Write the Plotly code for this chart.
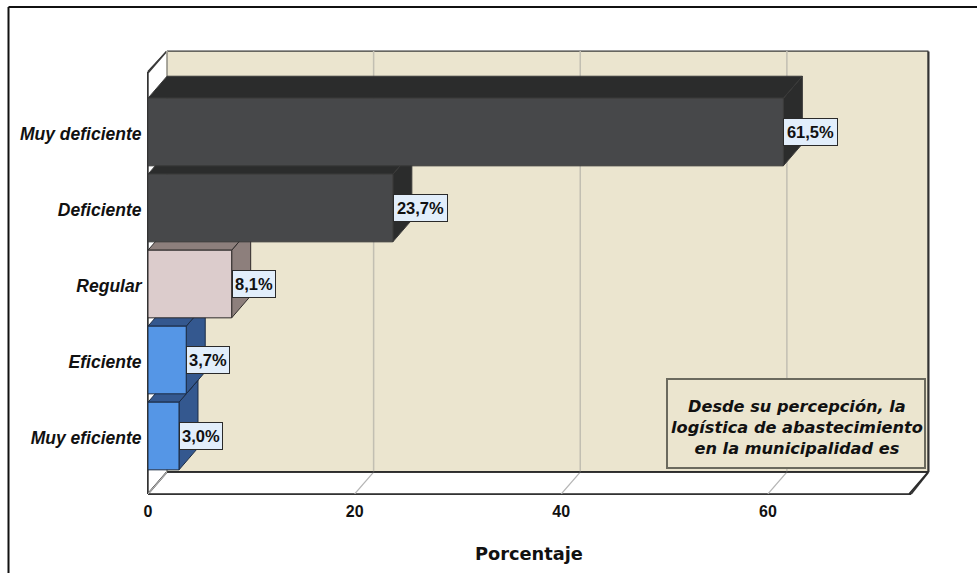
import plotly.graph_objects as go

# Data (bottom to top)
categories = ["Muy eficiente", "Eficiente", "Regular", "Deficiente", "Muy deficiente"]
percentages = [3.0, 3.7, 8.1, 23.7, 61.5]
front_colors = ["#5596E6", "#5596E6", "#DCCCCC", "#47484A", "#47484A"]
side_colors = ["#34588F", "#34588F", "#8D7F7C", "#2B2C2C", "#2B2C2C"]
edge_colors = ["#1B2B44", "#1B2B44", "#2E2A2A", "#3A3A3A", "#3A3A3A"]
x_ticks = [0, 20, 40, 60]
note_text = "Desde su percepción, la<br>logística de abastecimiento<br>en la municipalidad es"
x_title = "Porcentaje"

WALL = "#EBE5CF"
DX, DY = 1.839, 0.289
HALF = 0.445
XMAX = 75.5
YMIN, YMAX = -0.763, 5.066
L, R, T, B = 148, 928, 51, 494


def px(v):
    return (v - L) / (R - L)


def py(v):
    return (B - v) / (B - T)


def poly(xs, ys):
    return "M" + "L".join(f"{a},{b}" for a, b in zip(xs, ys)) + "Z"


xf, xb = 0, XMAX - DX
yf, ytf = YMIN, YMAX - DY
yb, ytb = YMIN + DY, YMAX

shapes = [
    # outer frame
    dict(type="line", xref="paper", yref="paper", x0=px(8.5), x1=px(8.5), y0=py(7), y1=py(573),
         line=dict(color="#111111", width=2)),
    dict(type="line", xref="paper", yref="paper", x0=px(8.5), x1=px(977), y0=py(7), y1=py(7),
         line=dict(color="#111111", width=2)),
    # back wall
    dict(type="path", layer="below", path=poly([DX, XMAX, XMAX, DX], [yb, yb, ytb, ytb]),
         fillcolor=WALL, line=dict(color="#3C3C3C", width=1.5)),
    # left wall
    dict(type="path", layer="below", path=poly([0, DX, DX, 0], [yf, yb, ytb, ytf]),
         fillcolor="#FFFFFF", line=dict(color="#3C3C3C", width=1.5)),
    # floor
    dict(type="path", layer="below", path=poly([0, xb, XMAX, DX], [yf, yf, yb, yb]),
         fillcolor="#FFFFFF", line=dict(color="#2A2A2A", width=1.5)),
]
for t in x_ticks:
    shapes.append(dict(type="line", layer="below", x0=t + DX, x1=t + DX, y0=yb, y1=ytb,
                       line=dict(color="#C2BFB2", width=1.5)))
    shapes.append(dict(type="line", layer="below", x0=t, x1=t + DX, y0=yf, y1=yb,
                       line=dict(color="#B5B5B5", width=1.2)))
# cube outline in paper coordinates (not clipped at the plot edge)
shapes.append(dict(type="line", layer="below", x0=DX, x1=XMAX, y0=yb, y1=yb,
                   line=dict(color="#2A2A2A", width=1.5)))
outline_x = [px(a) for a in (148, 911, 928.5, 928.5, 167, 148)]
outline_y = [py(a) for a in (494, 494, 472, 51.5, 51.5, 72)]
for j in range(len(outline_x)):
    k = (j + 1) % len(outline_x)
    shapes.append(dict(type="line", xref="paper", yref="paper", layer="below",
                       x0=outline_x[j], x1=outline_x[k], y0=outline_y[j], y1=outline_y[k],
                       line=dict(color="#333333", width=2)))
# note box
shapes.append(dict(type="rect", xref="paper", yref="paper", x0=px(667), x1=px(925), y0=py(468), y1=py(379),
                   fillcolor=WALL, line=dict(color="#6B6A5E", width=2)))

fig = go.Figure()

for i, v in enumerate(percentages):
    lo, hi = i - HALF, i + HALF
    line = dict(color=edge_colors[i], width=1)
    # side, top, front faces
    fig.add_trace(go.Scatter(x=[v, v + DX, v + DX, v, v], y=[lo, lo + DY, hi + DY, hi, lo],
                             mode="lines", fill="toself", fillcolor=side_colors[i], line=line,
                             hoverinfo="skip", showlegend=False))
    fig.add_trace(go.Scatter(x=[0, DX, v + DX, v, 0], y=[hi, hi + DY, hi + DY, hi, hi],
                             mode="lines", fill="toself", fillcolor=side_colors[i], line=line,
                             hoverinfo="skip", showlegend=False))
    fig.add_trace(go.Scatter(x=[0, v, v, 0, 0], y=[lo, lo, hi, hi, lo], name=categories[i],
                             mode="lines", fill="toself", fillcolor=front_colors[i], line=line,
                             showlegend=False))

annotations = []
for i, v in enumerate(percentages):
    label = f"{v:.1f}%".replace(".", ",")
    annotations.append(dict(
        x=v, y=i, xref="x", yref="y", xanchor="left", yanchor="middle", showarrow=False,
        text=label, width=11 * len(label) - 4, height=24, align="center",
        font=dict(family="Liberation Sans", size=16.5, color="#111111", weight=700),
        bgcolor="#E2EEFB", bordercolor="#2A2A2A", borderwidth=1, borderpad=1, xshift=0,
    ))

annotations.append(dict(
    x=px(796.5), y=py(427.5), xref="paper", yref="paper", xanchor="center", yanchor="middle",
    showarrow=False, text=note_text, align="center",
    font=dict(family="DejaVu Sans", size=16.2, color="#111111", weight=700, style="italic"),
))
annotations.append(dict(
    x=px(529), y=py(553), xref="paper", yref="paper", xanchor="center", yanchor="middle",
    showarrow=False, text=x_title,
    font=dict(family="DejaVu Sans", size=17.8, color="#111111", weight=700),
))

fig.update_layout(
    width=977, height=573, margin=dict(l=L, r=977 - R, t=T, b=573 - B, autoexpand=False),
    paper_bgcolor="#FFFFFF", plot_bgcolor="#FFFFFF", showlegend=False,
    shapes=shapes, annotations=annotations,
    xaxis=dict(range=[0, XMAX], tickvals=x_ticks, showgrid=False, zeroline=False, showline=False,
               ticks="outside", ticklen=3, tickcolor="rgba(0,0,0,0)",
               tickfont=dict(family="Liberation Sans", size=16, color="#111111", weight=700)),
    yaxis=dict(range=[YMIN, YMAX], tickvals=[i - 0.03 for i in range(len(categories))], ticktext=categories,
               showgrid=False, zeroline=False, showline=False,
               ticks="outside", ticklen=2, tickcolor="rgba(0,0,0,0)",
               tickfont=dict(family="Liberation Sans", size=17.5, color="#111111", weight=700, style="italic")),
)

fig.write_html("out.html", post_script="document.body.style.margin='0';",
               config=dict(displayModeBar=False))
